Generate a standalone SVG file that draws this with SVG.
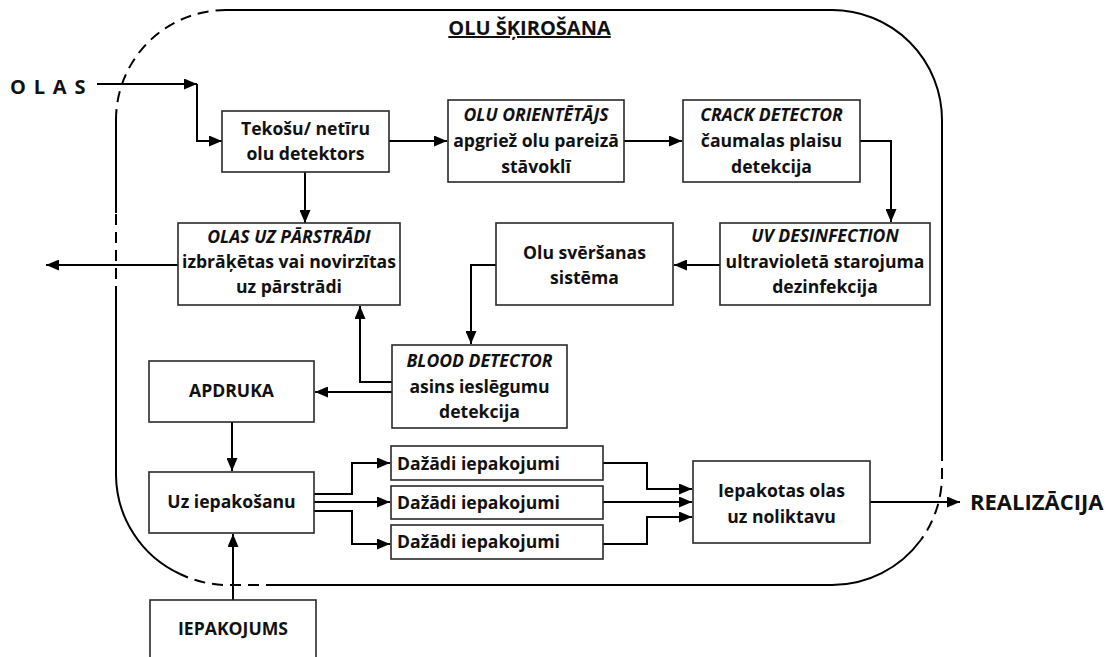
<svg xmlns="http://www.w3.org/2000/svg" width="1111" height="657" viewBox="0 0 1111 657">
  <style>
    .box { fill: #fff; stroke: #2a2a2a; stroke-width: 1.6; }
    .t { font-family: "Open Sans", Lato, "Liberation Sans", sans-serif; font-weight: bold; font-size: 17.6px; fill: #111; text-anchor: middle; }
    .i { font-style: italic; }
    .l { text-anchor: start; }
    .big { font-size: 20px; }
    .conn path { fill: none; stroke: #000; stroke-width: 2; }
    .arr { marker-end: url(#ah); }
    .edge { fill: none; stroke: #000; stroke-width: 2; }
    .dash { stroke-dasharray: 11 7; }
  </style>
  <defs>
    <marker id="ah" markerUnits="userSpaceOnUse" markerWidth="13" markerHeight="11" refX="13" refY="5.5" orient="auto">
      <path d="M0,0 L13,5.5 L0,11 z" fill="#000"/>
    </marker>
  </defs>

  <rect width="1111" height="657" fill="#fff"/>

  <!-- process boundary: rounded frame, dashed where flows cross it -->
  <g id="boundary">
    <path class="edge" d="M226,10 H832 A110,110 0 0 1 942,120 V450"/>
    <path class="edge dash" d="M942,450 V475 A110,110 0 0 1 920.8,540"/>
    <path class="edge" d="M920.8,540 A110,110 0 0 1 832,585 H277"/>
    <path class="edge dash" d="M277,585 H226 A110,110 0 0 1 180,574"/>
    <path class="edge" d="M180,574 A110,110 0 0 1 116,475 V297"/>
    <path class="edge dash" d="M116,297 V213"/>
    <path class="edge" d="M116,213 V120"/>
    <path class="edge dash" d="M116,120 A110,110 0 0 1 226,10"/>
    <text class="t" x="529.5" y="35" text-decoration="underline" style="font-size:20px">OLU ŠĶIROŠANA</text>
  </g>

  <g id="conn" class="conn">
    <path class="arr" d="M97,84 H197"/>
    <path class="arr" d="M197,84 V141 H222"/>
    <path class="arr" d="M305,172 V223"/>
    <path class="arr" d="M389,141 H447"/>
    <path class="arr" d="M624,141 H682"/>
    <path class="arr" d="M860,141 H891 V222"/>
    <path class="arr" d="M720,265 H674"/>
    <path class="arr" d="M496,265 H471 V344"/>
    <path class="arr" d="M392,382 H360 V306"/>
    <path class="arr" d="M392,392 H315"/>
    <path class="arr" d="M178,265 H46"/>
    <path class="arr" d="M232,422 V471"/>
    <path class="arr" d="M314,494 H352 V463 H390"/>
    <path class="arr" d="M314,502 H390"/>
    <path class="arr" d="M314,511 H352 V544 H390"/>
    <path class="arr" d="M603,463 H647 V489 H692"/>
    <path class="arr" d="M603,502 H692"/>
    <path class="arr" d="M603,544 H647 V517 H692"/>
    <path class="arr" d="M870,502 H960"/>
    <path class="arr" d="M233,600 V534"/>
  </g>

  <g id="in-olas">
    <text class="t l big" x="10" y="94" letter-spacing="1.3">O L A S</text>
  </g>

  <g id="n-detector">
    <rect class="box" x="222" y="111" width="167" height="61"/>
    <text class="t" x="305.5" y="135">Tekošu/ netīru</text>
    <text class="t" x="305.5" y="160">olu detektors</text>
  </g>

  <g id="n-orient">
    <rect class="box" x="448" y="100" width="176" height="82"/>
    <text class="t i" x="536" y="121">OLU ORIENTĒTĀJS</text>
    <text class="t" x="536" y="147">apgriež olu pareizā</text>
    <text class="t" x="536" y="173">stāvoklī</text>
  </g>

  <g id="n-crack">
    <rect class="box" x="683" y="100" width="177" height="82"/>
    <text class="t i" x="771.5" y="121">CRACK DETECTOR</text>
    <text class="t" x="771.5" y="147">čaumalas plaisu</text>
    <text class="t" x="771.5" y="173">detekcija</text>
  </g>

  <g id="n-uv">
    <rect class="box" x="720" y="223" width="210" height="82"/>
    <text class="t i" x="825" y="242">UV DESINFECTION</text>
    <text class="t" x="825" y="268">ultravioletā starojuma</text>
    <text class="t" x="825" y="293">dezinfekcija</text>
  </g>

  <g id="n-weigh">
    <rect class="box" x="496" y="223" width="177" height="82"/>
    <text class="t" x="584.5" y="259">Olu svēršanas</text>
    <text class="t" x="584.5" y="284">sistēma</text>
  </g>

  <g id="n-reproc">
    <rect class="box" x="178" y="223" width="222" height="82"/>
    <text class="t i" x="289" y="243">OLAS UZ PĀRSTRĀDI</text>
    <text class="t" x="289" y="268">izbrāķētas vai novirzītas</text>
    <text class="t" x="289" y="293">uz pārstrādi</text>
  </g>

  <g id="n-blood">
    <rect class="box" x="392" y="345" width="175" height="83"/>
    <text class="t i" x="479.5" y="367">BLOOD DETECTOR</text>
    <text class="t" x="479.5" y="393">asins ieslēgumu</text>
    <text class="t" x="479.5" y="418">detekcija</text>
  </g>

  <g id="n-print">
    <rect class="box" x="149" y="361" width="165" height="61"/>
    <text class="t" x="231.5" y="397">APDRUKA</text>
  </g>

  <g id="n-topack">
    <rect class="box" x="149" y="472" width="165" height="61"/>
    <text class="t" x="231.5" y="508">Uz iepakošanu</text>
  </g>

  <g id="n-pack1">
    <rect class="box" x="391" y="446" width="212" height="34"/>
    <text class="t l" x="397" y="470">Dažādi iepakojumi</text>
  </g>
  <g id="n-pack2">
    <rect class="box" x="391" y="486" width="212" height="33"/>
    <text class="t l" x="397" y="509">Dažādi iepakojumi</text>
  </g>
  <g id="n-pack3">
    <rect class="box" x="391" y="525" width="212" height="34"/>
    <text class="t l" x="397" y="548">Dažādi iepakojumi</text>
  </g>

  <g id="n-packed">
    <rect class="box" x="693" y="461" width="177" height="82"/>
    <text class="t" x="781.5" y="497">Iepakotas olas</text>
    <text class="t" x="781.5" y="523">uz noliktavu</text>
  </g>

  <g id="out-sales">
    <text class="t l" x="970" y="510" style="font-size:22px">REALIZĀCIJA</text>
  </g>

  <g id="n-packaging">
    <rect class="box" x="150" y="600" width="166" height="70"/>
    <text class="t" x="233" y="635">IEPAKOJUMS</text>
  </g>
</svg>
